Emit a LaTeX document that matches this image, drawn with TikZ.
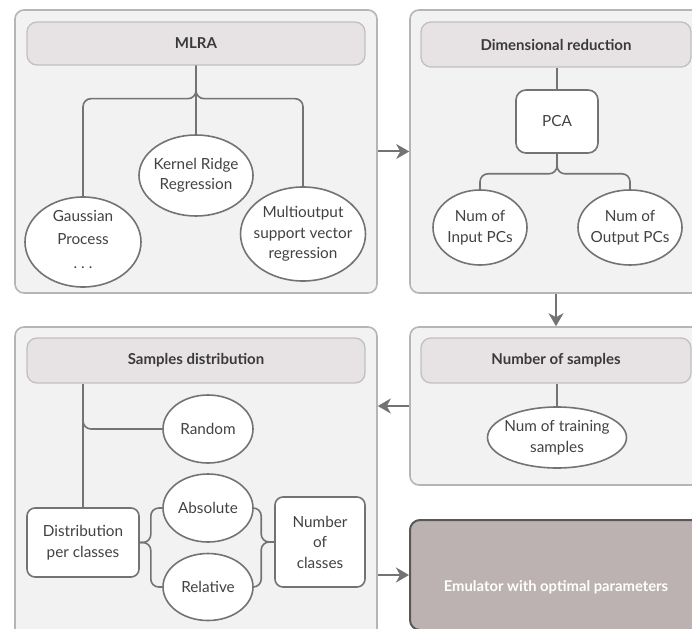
\documentclass[tikz,border=0pt]{standalone}
\usepackage{fontspec}
\setmainfont{Lato}
\usetikzlibrary{arrows.meta,shapes.geometric}
\definecolor{panelfill}{HTML}{F2F2F2}
\definecolor{panelline}{HTML}{B5B5B5}
\definecolor{hdrfill}{HTML}{E7E3E5}
\definecolor{hdrline}{HTML}{C2BFC1}
\definecolor{lnc}{HTML}{737373}
\definecolor{txt}{HTML}{424242}
\definecolor{txtdark}{HTML}{3A3A3A}
\definecolor{emufill}{HTML}{BCB2B1}
\definecolor{emuline}{HTML}{585858}
\begin{document}
\begin{tikzpicture}[x=1pt,y=-1pt,
  font=\fontsize{15.3}{20.5}\selectfont,
  panel/.style={draw=panelline, fill=panelfill, line width=1.6pt, rounded corners=9pt, inner sep=0pt},
  hdr/.style={draw=hdrline, fill=hdrfill, line width=1.3pt, rounded corners=10pt, inner sep=0pt, text=txtdark, font=\fontsize{15}{20}\selectfont\bfseries},
  ell/.style={ellipse, draw=lnc, fill=white, line width=1.6pt, inner sep=0pt},
  lbl/.style={align=center, text=txt},
  box/.style={draw=lnc, fill=white, line width=1.6pt, rounded corners=8pt, inner sep=0pt, align=center, text=txt},
  con/.style={draw=lnc, line width=1.6pt, rounded corners=8pt},
  arr/.style={draw=lnc, line width=2pt, -{Stealth[length=13pt,width=15pt,inset=4pt]}},
  emubox/.style={draw=emuline, fill=emufill, line width=2pt, rounded corners=10pt, inner sep=0pt}
]
\useasboundingbox (0,0) rectangle (692,628);
\clip (0,0) rectangle (692,628);

% panels
\node[panel, minimum width=362, minimum height=283] (p1) at (196,151.5) {};
\node[panel, minimum width=292, minimum height=283] (p2) at (556,151.5) {};
\node[panel, minimum width=292, minimum height=158] (p3) at (556,406) {};
\node[panel, minimum width=362, minimum height=313] (p4) at (196,483.5) {};
\node[emubox, minimum width=292, minimum height=110,
      label={[text=white, font=\fontsize{14.8}{20}\selectfont\bfseries, yshift=-12pt]center:Emulator with optimal parameters}] (emu) at (556,575) {};

% headers
\node[hdr, minimum width=338, minimum height=43] (h1) at (196,43.5) {MLRA};
\node[hdr, minimum width=270, minimum height=45] (h2) at (556,44.5) {Dimensional reduction};
\node[hdr, minimum width=270, minimum height=45] (h3) at (556,360.5) {Number of samples};
\node[hdr, minimum width=338, minimum height=45] (h4) at (196,360.5) {Samples distribution};

% MLRA
\node[ell, minimum width=114, minimum height=81, label={[lbl]center:Kernel Ridge\\Regression}] (krr) at (196,175.5) {};
\node[ell, minimum width=116, minimum height=90, label={[lbl, font=\fontsize{15.3}{23.5}\selectfont, yshift=3pt]center:Gaussian\\Process\\.\hspace{4pt}.\hspace{4pt}.}] (gp) at (83,242) {};
\node[ell, minimum width=125, minimum height=94, label={[lbl]center:Multioutput\\support vector\\regression}] (mo) at (303,234) {};
\draw[con] (h1.south) -- ++(0,33) -| (gp.north);
\draw[con] (h1.south) -- ++(0,33) -| (mo.north);
\draw[con] (h1.south) -- (krr.north);

% Dimensional reduction
\node[box, minimum width=82, minimum height=63, rounded corners=10pt] (pca) at (557,121.5) {PCA};
\node[ell, minimum width=94, minimum height=75, label={[lbl]center:Num of\\Input PCs}] (inp) at (480,227.5) {};
\node[ell, minimum width=104, minimum height=75, label={[lbl]center:Num of\\Output PCs}] (outp) at (630,227.5) {};
\draw[con] (h2.south -| pca.north) -- (pca.north);
\draw[con] (pca.south) -- ++(0,20) -| (inp.north);
\draw[con] (pca.south) -- ++(0,20) -| (outp.north);

% Number of samples
\node[ell, minimum width=139, minimum height=61, label={[lbl]center:Num of training\\samples}] (nts) at (557,437.5) {};
\draw[con] (h3.south -| nts.north) -- (nts.north);

% Samples distribution
\node[ell, minimum width=90, minimum height=68, label={[lbl]center:Random}] (rand) at (208,429) {};
\node[ell, minimum width=90, minimum height=68, label={[lbl]center:Absolute}] (abs) at (208,508) {};
\node[ell, minimum width=90, minimum height=67, label={[lbl]center:Relative}] (rel) at (208,587) {};
\node[box, minimum width=112, minimum height=69] (dist) at (83,542.5) {Distribution\\per classes};
\node[box, minimum width=90, minimum height=90] (ncl) at (320,542) {Number\\of\\classes};
\draw[con] (h4.south -| dist.north) -- (dist.north);
\draw[con] (h4.south -| dist.north) ++(0,25) |- (rand.west);
\draw[con] (dist.east) -- ++(11,0) |- (abs.west);
\draw[con] (dist.east) -- ++(11,0) |- (rel.west);
\draw[con] (ncl.west) -- ++(-13,0) |- (abs.east);
\draw[con] (ncl.west) -- ++(-13,0) |- (rel.east);

% flow arrows
\draw[arr] (p1.east) -- (p2.west);
\draw[arr] (p2.south) -- (p3.north);
\draw[arr] (p3.west) -- (p3.west -| p4.east);
\draw[arr] (emu.west -| p4.east) -- (emu.west);
\end{tikzpicture}
\end{document}
